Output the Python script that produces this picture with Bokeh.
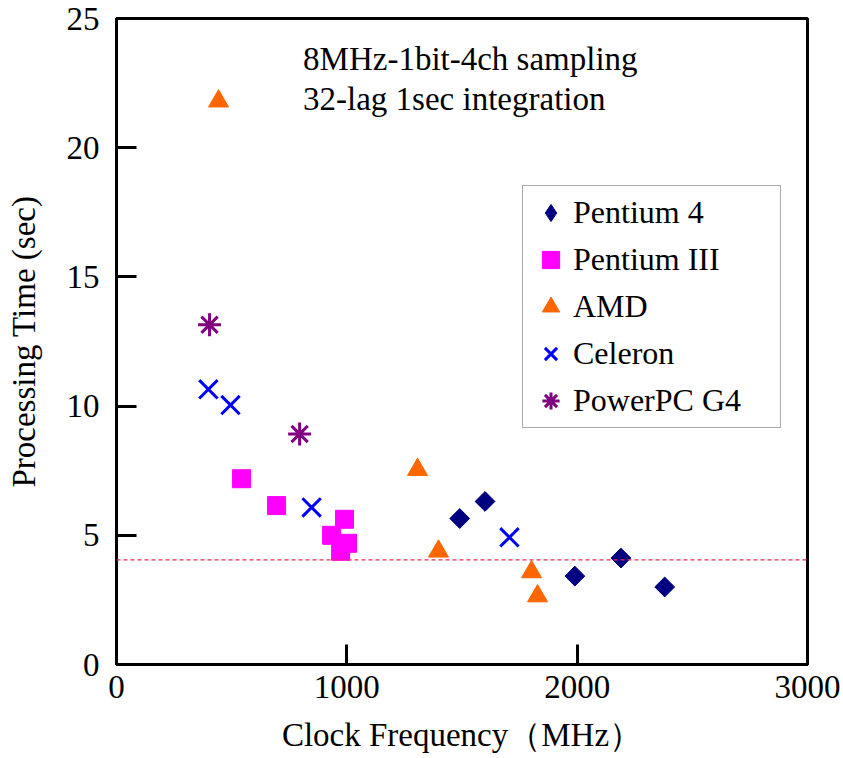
import math
from bokeh.plotting import figure
from bokeh.models import Range1d, Span, Label, Legend, FixedTicker
from bokeh.embed import file_html
from bokeh.resources import INLINE

# ---- data ----
p4_mhz = [1490, 1600, 1990, 2190, 2380]
p4_sec = [5.65, 6.31, 3.42, 4.12, 3.0]

p3_mhz = [543, 695, 990, 934, 1003, 973]
p3_sec = [7.19, 6.15, 5.62, 5.0, 4.69, 4.38]

amd_mhz = [443, 1307, 1398, 1802, 1828]
amd_sec = [21.8, 7.54, 4.38, 3.58, 2.65]

cel_mhz = [399, 495, 847, 1706]
cel_sec = [10.65, 10.04, 6.08, 4.92]

ppc_mhz = [404, 795]
ppc_sec = [13.15, 8.92]

threshold_sec = 4.05

x_ticks = [0, 1000, 2000, 3000]
y_ticks = [0, 5, 10, 15, 20, 25]

series_names = ["Pentium 4", "Pentium III", "AMD", "Celeron", "PowerPC G4"]
note_lines = ["8MHz-1bit-4ch sampling", "32-lag 1sec integration"]

FONT = "Liberation Serif"

p = figure(width=843, height=758, output_backend="svg", toolbar_location=None,
           x_range=Range1d(0, 3000), y_range=Range1d(0, 25),
           min_border_left=116, min_border_right=36, min_border_top=18,
           min_border_bottom=94,
           x_axis_label="Clock Frequency（MHz）",
           y_axis_label="Processing Time (sec)")
p.background_fill_color = "white"
p.border_fill_color = "white"
p.outline_line_color = "black"
p.outline_line_width = 3
p.xgrid.visible = False
p.ygrid.visible = False

for ax in (p.xaxis[0], p.yaxis[0]):
    ax.axis_line_width = 3
    ax.axis_line_color = "black"
    ax.major_tick_in = 20
    ax.major_tick_out = 0
    ax.major_tick_line_width = 3
    ax.minor_tick_line_color = None
    ax.major_label_text_font = FONT
    ax.major_label_text_font_size = "33px"
    ax.major_label_text_color = "black"
    ax.axis_label_text_font = FONT
    ax.axis_label_text_font_size = "33px"
    ax.axis_label_text_font_style = "normal"
    ax.axis_label_text_color = "black"

p.xaxis[0].ticker = FixedTicker(ticks=x_ticks)
p.yaxis[0].ticker = FixedTicker(ticks=y_ticks)
p.xaxis[0].major_label_standoff = 11
p.yaxis[0].major_label_standoff = 17
p.xaxis[0].axis_label_standoff = 16
p.yaxis[0].axis_label_standoff = 22

p.add_layout(Span(location=threshold_sec, dimension="width",
                  line_color="#e62e55", line_width=1.2, line_dash="4 3"))

# plain diamond key (legend ignores marker angle); sits fully under the
# rotated squares drawn on top of it
r1_key = p.scatter(p4_mhz, p4_sec, marker="diamond", size=18,
                   fill_color="#000080", line_color="#000080")
r1 = p.scatter(p4_mhz, p4_sec, marker="square", angle=math.pi / 4, size=14,
               fill_color="#000080", line_color="#000080")
r2 = p.scatter(p3_mhz, p3_sec, marker="square", size=18,
               fill_color="#FF00FF", line_color="#FF00FF")
r3 = p.scatter(amd_mhz, amd_sec, marker="triangle", size=20,
               fill_color="#FF6600", line_color="#FF6600")
r4 = p.scatter(cel_mhz, cel_sec, marker="x", size=26, line_width=3,
               line_color="#0000FF")
r5 = p.scatter(ppc_mhz, ppc_sec, marker="asterisk", size=23, line_width=3,
               line_color="#800080")

legend = Legend(items=[(series_names[0], [r1_key]), (series_names[1], [r2]),
                       (series_names[2], [r3]), (series_names[3], [r4]),
                       (series_names[4], [r5])],
                location=(406, 236))
legend.label_text_font = FONT
legend.label_text_font_size = "32px"
legend.label_text_color = "black"
legend.glyph_width = 45
legend.glyph_height = 43
legend.label_height = 43
legend.label_width = 202
legend.label_standoff = 0
legend.spacing = 4
legend.padding = 5
legend.margin = 0
legend.border_line_color = "#555555"
legend.border_line_width = 1
legend.background_fill_color = "white"
p.add_layout(legend, "center")

p.add_layout(Label(x=810, y=23.45, text=note_lines[0], text_font=FONT,
                   text_font_size="33px", text_baseline="middle",
                   text_color="black"))
p.add_layout(Label(x=810, y=21.87, text=note_lines[1], text_font=FONT,
                   text_font_size="33px", text_baseline="middle",
                   text_color="black"))

open("out.html", "w").write(file_html(p, INLINE))
